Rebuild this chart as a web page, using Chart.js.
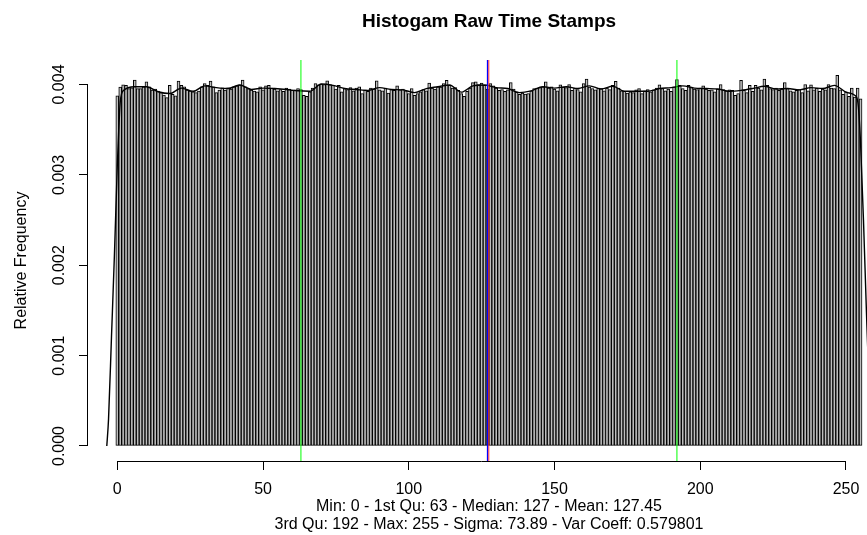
<!DOCTYPE html>
<html><head><meta charset="utf-8">
<script src="https://cdn.jsdelivr.net/npm/chart.js@4.4.1/dist/chart.umd.min.js"></script>
<style>html,body{margin:0;padding:0;overflow:hidden;background:#fff}#wrap{width:900px;height:535px}</style>
</head><body><div id="wrap"><canvas id="c" width="900" height="535"></canvas></div>
<script>
// ---------- data ----------
const titleText = "Histogam Raw Time Stamps";
const yAxisTitle = "Relative Frequency";
const summaryLines = [
  "Min: 0 - 1st Qu: 63 - Median: 127 - Mean: 127.45",
  "3rd Qu: 192 - Max: 255 - Sigma: 73.89 - Var Coeff: 0.579801"
];
const firstBin = 0;
const relFreq = [
0.003874,0.003970,0.003995,0.003990,0.003955,0.003963,0.004048,0.003955,0.003955,0.003975,
0.004030,0.003975,0.003937,0.003948,0.003926,0.003911,0.003882,0.003855,0.003990,0.003890,
0.003874,0.004037,0.003990,0.003975,0.003937,0.003926,0.003919,0.003911,0.003926,0.003975,
0.004010,0.003990,0.004037,0.003975,0.003911,0.003937,0.003963,0.003937,0.003963,0.003948,
0.003975,0.003985,0.003995,0.004048,0.003975,0.003955,0.003937,0.003926,0.003919,0.003975,
0.003940,0.003985,0.003990,0.003960,0.003950,0.003930,0.003945,0.003925,0.003960,0.003950,
0.003935,0.003940,0.003955,0.003945,0.003880,0.003870,0.003920,0.003960,0.004010,0.003995,
0.004005,0.004000,0.004040,0.004000,0.003990,0.003950,0.003990,0.003920,0.003955,0.003945,
0.003965,0.003930,0.003960,0.003975,0.003900,0.003940,0.003925,0.003960,0.003950,0.004040,
0.003940,0.003930,0.003960,0.003905,0.003945,0.003935,0.003985,0.003940,0.003950,0.003930,
0.003900,0.003955,0.003880,0.003900,0.003920,0.003945,0.003930,0.004015,0.003960,0.003950,
0.003975,0.003970,0.004010,0.004045,0.003990,0.003960,0.003965,0.003935,0.003900,0.003870,
0.003925,0.003960,0.004020,0.004030,0.004000,0.004015,0.003990,0.003950,0.004010,0.003985,
0.003960,0.003935,0.003945,0.003925,0.003940,0.004020,0.003950,0.003920,0.003890,0.003905,
0.003895,0.003900,0.003930,0.003955,0.003960,0.003965,0.003975,0.004030,0.003960,0.003975,
0.003950,0.003930,0.003995,0.003970,0.003965,0.004000,0.003935,0.003960,0.003945,0.003920,
0.004010,0.004060,0.003970,0.003955,0.003940,0.003960,0.003955,0.003930,0.003960,0.003945,
0.003990,0.004035,0.003960,0.003930,0.003925,0.003905,0.003920,0.003910,0.003940,0.003955,
0.003900,0.003930,0.003945,0.003920,0.003940,0.003960,0.003995,0.003955,0.003930,0.003950,
0.003925,0.003975,0.004055,0.003990,0.003955,0.003935,0.003990,0.003970,0.003950,0.003945,
0.003960,0.003985,0.003950,0.003935,0.003940,0.003920,0.003950,0.004000,0.003945,0.003930,
0.003940,0.003935,0.003880,0.003900,0.004045,0.003935,0.003910,0.003990,0.003925,0.003990,
0.003960,0.003940,0.004060,0.003990,0.003955,0.003945,0.003960,0.003935,0.003950,0.004020,
0.003955,0.003930,0.003920,0.003935,0.003945,0.003910,0.004000,0.003930,0.003995,0.003940,
0.003960,0.003925,0.003950,0.003940,0.004000,0.003960,0.003955,0.004100,0.003940,0.003890,
0.003920,0.003870,0.003960,0.003860,0.003960,0.003840
];
const densityX = [-3.6,-3,-2,-1,0,0.5,1,1.5,
  2,6,10,14,18,22,26,30,34,38,42,46,50,54,58,62,66,70,74,78,82,86,90,94,98,
  102,106,110,114,118,122,126,130,134,138,142,146,150,154,158,162,166,170,174,178,182,186,190,194,198,
  202,206,210,214,218,222,226,230,234,238,242,246,250,
  253,254,254.5,255,256,257,258,259];
const densityY = [0,0.00030,0.00120,0.00210,0.00310,0.00350,0.00380,0.00390,
  0.003930,0.003975,0.003975,0.003920,0.003900,0.003960,0.003925,0.003985,0.003965,0.003955,0.003995,0.003945,0.003960,0.003955,0.003945,0.003930,0.003925,0.004005,0.003990,0.003955,0.003945,0.003935,0.003965,0.003945,0.003940,
  0.003910,0.003955,0.003975,0.003995,0.003915,0.003985,0.003995,0.003965,0.003955,0.003910,0.003930,0.003975,0.003960,0.003975,0.003955,0.003985,0.003950,0.003980,0.003925,0.003925,0.003925,0.003955,0.003965,0.003985,0.003960,
  0.003955,0.003950,0.003925,0.003935,0.003955,0.003980,0.003950,0.003955,0.003940,0.003965,0.003955,0.003990,0.003915,
  0.003880,0.003820,0.003650,0.003350,0.002500,0.001500,0.000600,0];
const quartileMarks = [63, 192];
const medianMark = 127;
const meanMark = 127.45;
const xTicks = [0, 50, 100, 150, 200, 250];
const yTicks = [0, 0.001, 0.002, 0.003, 0.004];
const yTickLabels = ["0.000", "0.001", "0.002", "0.003", "0.004"];

// ---------- chart ----------
const FONT = "'Liberation Sans', Arial, Helvetica, sans-serif";
const X_MIN = -10.05, X_MAX = 265.1;
const Y_MIN = -0.000166, Y_MAX = 0.004271;

const barData = relFreq.map((v, i) => ({ x: firstBin + i, y: v }));
const densData = densityX.map((x, i) => ({ x: x, y: densityY[i] }));
const vline = (x) => [{ x: x, y: Y_MIN }, { x: x, y: Y_MAX }];

const rPlot = {
  id: 'rPlot',
  afterDraw(chart) {
    const ctx = chart.ctx, xs = chart.scales.x, ys = chart.scales.y, ca = chart.chartArea;
    ctx.save();
    ctx.strokeStyle = '#000'; ctx.lineWidth = 1;
    const yb = Math.round(ca.bottom) + 0.5;
    ctx.beginPath();
    ctx.moveTo(xs.getPixelForValue(xTicks[0]), yb);
    ctx.lineTo(xs.getPixelForValue(xTicks[xTicks.length - 1]), yb);
    ctx.stroke();
    const xl = Math.round(ca.left) - 0.5;
    ctx.beginPath();
    ctx.moveTo(xl, ys.getPixelForValue(yTicks[0]));
    ctx.lineTo(xl, ys.getPixelForValue(yTicks[yTicks.length - 1]));
    ctx.stroke();
    ctx.fillStyle = '#000';
    ctx.font = '16px ' + FONT;
    ctx.textAlign = 'center';
    ctx.textBaseline = 'alphabetic';
    yTicks.forEach((v, i) => {
      const py = ys.getPixelForValue(v);
      ctx.save(); ctx.translate(64, py); ctx.rotate(-Math.PI / 2);
      ctx.fillText(yTickLabels[i], 0, 0); ctx.restore();
    });
    ctx.save(); ctx.translate(26, (ca.top + ca.bottom) / 2); ctx.rotate(-Math.PI / 2);
    ctx.fillText(yAxisTitle, 0, 0); ctx.restore();
    const cx = (ca.left + ca.right) / 2;
    ctx.fillText(summaryLines[0], cx, 511);
    ctx.fillText(summaryLines[1], cx, 529);
    ctx.font = 'bold 19px ' + FONT;
    ctx.fillText(titleText, cx, 27);
    ctx.restore();
  }
};

new Chart(document.getElementById('c'), {
  type: 'bar',
  data: {
    datasets: [
      { type: 'bar', data: barData, backgroundColor: '#bebebe', borderColor: '#000', borderWidth: 1,
        borderSkipped: false, barPercentage: 1, categoryPercentage: 1, order: 10 },
      { type: 'line', data: densData, borderColor: '#000', borderWidth: 1.4, pointRadius: 0,
        cubicInterpolationMode: 'monotone', fill: false, order: 5 },
      { type: 'line', data: vline(quartileMarks[0]), borderColor: '#00ff00', borderWidth: 1, pointRadius: 0, order: 4 },
      { type: 'line', data: vline(quartileMarks[1]), borderColor: '#00ff00', borderWidth: 1, pointRadius: 0, order: 3 },
      { type: 'line', data: vline(meanMark), borderColor: '#ff3030', borderWidth: 1, pointRadius: 0, order: 2 },
      { type: 'line', data: vline(medianMark), borderColor: '#0000ff', borderWidth: 1.2, pointRadius: 0, order: 1 }
    ]
  },
  options: {
    responsive: false,
    animation: false,
    layout: { padding: { left: 0, top: 60, right: 10, bottom: 0 } },
    plugins: { legend: { display: false }, tooltip: { enabled: false }, title: { display: false } },
    scales: {
      x: {
        type: 'linear', min: X_MIN, max: X_MAX, offset: false,
        afterBuildTicks: s => { s.ticks = xTicks.map(v => ({ value: v })); },
        afterFit: s => { s.height = 74; },
        grid: { offset: false, drawOnChartArea: false, drawTicks: true, tickLength: 9, color: '#000', lineWidth: 1 },
        border: { display: false },
        ticks: { font: { family: FONT, size: 16 }, color: '#000', padding: 10, maxRotation: 0, autoSkip: false,
          callback: v => String(v) }
      },
      y: {
        type: 'linear', min: Y_MIN, max: Y_MAX,
        afterBuildTicks: s => { s.ticks = yTicks.map(v => ({ value: v })); },
        afterFit: s => { s.width = 88; },
        grid: { offset: false, drawOnChartArea: false, drawTicks: true, tickLength: 9, color: '#000', lineWidth: 1 },
        border: { display: false },
        ticks: { display: false }
      }
    }
  },
  plugins: [rPlot]
});
</script>
</body></html>
